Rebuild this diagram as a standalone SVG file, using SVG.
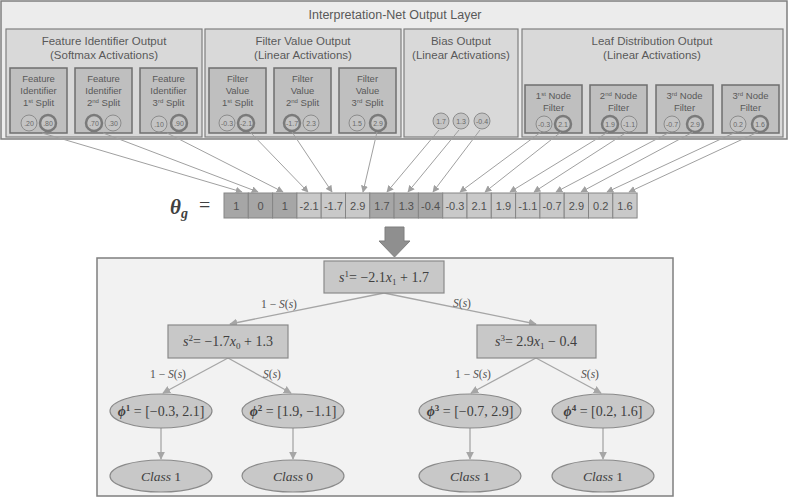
<svg xmlns="http://www.w3.org/2000/svg" width="789" height="497" viewBox="0 0 789 497">
<defs>
<style>
.sans{font-family:"Liberation Sans",Arial,sans-serif;fill:#595959}
.serif{font-family:"Liberation Serif","DejaVu Serif",serif;fill:#404040}
.panel{fill:#ececec;stroke:#7f7f7f;stroke-width:1.5}
.grp{fill:#d9d9d9;stroke:#7f7f7f;stroke-width:1.2}
.sub{fill:#bfbfbf;stroke:#6f6f6f;stroke-width:1.5}
.c{fill:#c4c4c4;stroke:#8c8c8c;stroke-width:1}
.cb{fill:#c4c4c4;stroke:#7a7a7a;stroke-width:2.5}
.ct{font-family:"Liberation Sans",Arial,sans-serif;font-size:7px;fill:#6a6a6a;text-anchor:middle}
.dk{fill:#a6a6a6;stroke:#858585;stroke-width:1}
.lt{fill:#c9c9c9;stroke:#858585;stroke-width:1}
.cell{font-family:"Liberation Sans",Arial,sans-serif;font-size:11px;fill:#505050;text-anchor:middle}
.node{fill:#c8c8c8;stroke:#8a8a8a;stroke-width:1.2}
.conn{stroke:#a0a0a0;stroke-width:1;fill:none;marker-end:url(#ah)}
.tconn{stroke:#a6a6a6;stroke-width:1.3;fill:none;marker-end:url(#ah2)}
.lbl{font-family:"Liberation Serif","DejaVu Serif",serif;font-size:11.5px;fill:#505050;text-anchor:middle}
.st{font-family:"Liberation Sans",Arial,sans-serif;font-size:9.5px;fill:#595959;text-anchor:middle}
</style>
<marker id="ah" viewBox="0 0 10 10" refX="9" refY="5" markerWidth="7" markerHeight="7" orient="auto" markerUnits="userSpaceOnUse"><path d="M0,0 L10,5 L0,10 z" fill="#a0a0a0"/></marker>
<marker id="ah2" viewBox="0 0 10 10" refX="9" refY="5" markerWidth="8" markerHeight="8" orient="auto" markerUnits="userSpaceOnUse"><path d="M0,0 L10,5 L0,10 z" fill="#a6a6a6"/></marker>
</defs>
<rect width="789" height="497" fill="#ffffff"/>

<g id="output-layer">
<rect class="panel" x="1" y="1" width="786" height="138"/>
<text class="sans" x="395" y="19" font-size="12.5" text-anchor="middle">Interpretation-Net Output Layer</text>
</g>

<g id="feature-identifier-output">
<rect class="grp" x="6" y="29" width="196" height="108"/>
<text class="sans" x="104" y="45" font-size="11.5" text-anchor="middle">Feature Identifier Output</text>
<text class="sans" x="104" y="59" font-size="11.5" text-anchor="middle">(Softmax Activations)</text>
</g>
<g id="fi-1">
<rect class="sub" x="10" y="68" width="57" height="65"/>
<text class="st"><tspan x="38.5" y="82">Feature</tspan><tspan x="38.5" y="94">Identifier</tspan><tspan x="38.5" y="106">1<tspan font-size="6" dy="-3">st</tspan><tspan dy="3"> Split</tspan></tspan></text>
<circle class="c" cx="29" cy="123" r="8"/><text class="ct" x="29" y="125.5">.20</text>
<circle class="cb" cx="48" cy="123" r="8"/><text class="ct" x="48" y="125.5">.80</text>
</g>
<g id="fi-2">
<rect class="sub" x="75" y="68" width="57" height="65"/>
<text class="st"><tspan x="103.5" y="82">Feature</tspan><tspan x="103.5" y="94">Identifier</tspan><tspan x="103.5" y="106">2<tspan font-size="6" dy="-3">nd</tspan><tspan dy="3"> Split</tspan></tspan></text>
<circle class="cb" cx="94" cy="123" r="8"/><text class="ct" x="94" y="125.5">.70</text>
<circle class="c" cx="113" cy="123" r="8"/><text class="ct" x="113" y="125.5">.30</text>
</g>
<g id="fi-3">
<rect class="sub" x="140" y="68" width="57" height="65"/>
<text class="st"><tspan x="168.5" y="82">Feature</tspan><tspan x="168.5" y="94">Identifier</tspan><tspan x="168.5" y="106">3<tspan font-size="6" dy="-3">rd</tspan><tspan dy="3"> Split</tspan></tspan></text>
<circle class="c" cx="159" cy="124" r="8"/><text class="ct" x="159" y="126.5">.10</text>
<circle class="cb" cx="179" cy="123" r="8"/><text class="ct" x="179" y="125.5">.90</text>
</g>

<g id="filter-value-output">
<rect class="grp" x="205" y="29" width="196" height="108"/>
<text class="sans" x="303" y="45" font-size="11.5" text-anchor="middle">Filter Value Output</text>
<text class="sans" x="303" y="59" font-size="11.5" text-anchor="middle">(Linear Activations)</text>
</g>
<g id="fv-1">
<rect class="sub" x="209" y="68" width="57" height="65"/>
<text class="st"><tspan x="237.5" y="82">Filter</tspan><tspan x="237.5" y="94">Value</tspan><tspan x="237.5" y="106">1<tspan font-size="6" dy="-3">st</tspan><tspan dy="3"> Split</tspan></tspan></text>
<circle class="c" cx="227" cy="123" r="8"/><text class="ct" x="227" y="125.5">-0.3</text>
<circle class="cb" cx="246" cy="123" r="8"/><text class="ct" x="246" y="125.5">-2.1</text>
</g>
<g id="fv-2">
<rect class="sub" x="274" y="68" width="57" height="65"/>
<text class="st"><tspan x="302.5" y="82">Filter</tspan><tspan x="302.5" y="94">Value</tspan><tspan x="302.5" y="106">2<tspan font-size="6" dy="-3">nd</tspan><tspan dy="3"> Split</tspan></tspan></text>
<circle class="cb" cx="292" cy="123" r="8"/><text class="ct" x="292" y="125.5">-1.7</text>
<circle class="c" cx="311" cy="123" r="8"/><text class="ct" x="311" y="125.5">2.3</text>
</g>
<g id="fv-3">
<rect class="sub" x="339" y="68" width="57" height="65"/>
<text class="st"><tspan x="367.5" y="82">Filter</tspan><tspan x="367.5" y="94">Value</tspan><tspan x="367.5" y="106">3<tspan font-size="6" dy="-3">rd</tspan><tspan dy="3"> Split</tspan></tspan></text>
<circle class="c" cx="357" cy="123" r="8"/><text class="ct" x="357" y="125.5">1.5</text>
<circle class="cb" cx="378" cy="123" r="8"/><text class="ct" x="378" y="125.5">2.9</text>
</g>

<g id="bias-output">
<rect class="grp" x="404" y="29" width="114" height="108"/>
<text class="sans" x="461" y="45" font-size="11.5" text-anchor="middle">Bias Output</text>
<text class="sans" x="461" y="59" font-size="11.5" text-anchor="middle">(Linear Activations)</text>
<circle class="c" cx="441" cy="121" r="8"/><text class="ct" x="441" y="123.5">1.7</text>
<circle class="c" cx="461" cy="121" r="8"/><text class="ct" x="461" y="123.5">1.3</text>
<circle class="c" cx="482" cy="121" r="8"/><text class="ct" x="482" y="123.5">-0.4</text>
</g>

<g id="leaf-distribution-output">
<rect class="grp" x="522" y="29" width="261" height="108"/>
<text class="sans" x="652" y="45" font-size="11.5" text-anchor="middle">Leaf Distribution Output</text>
<text class="sans" x="652" y="59" font-size="11.5" text-anchor="middle">(Linear Activations)</text>
</g>
<g id="ld-1">
<rect class="sub" x="525" y="85" width="57" height="48"/>
<text class="st"><tspan x="553.5" y="99">1<tspan font-size="6" dy="-3">st</tspan><tspan dy="3"> Node</tspan></tspan><tspan x="553.5" y="111">Filter</tspan></text>
<circle class="c" cx="544" cy="124" r="8"/><text class="ct" x="544" y="126.5">-0.3</text>
<circle class="cb" cx="563" cy="124" r="8"/><text class="ct" x="563" y="126.5">2.1</text>
</g>
<g id="ld-2">
<rect class="sub" x="590" y="85" width="57" height="48"/>
<text class="st"><tspan x="618.5" y="99">2<tspan font-size="6" dy="-3">nd</tspan><tspan dy="3"> Node</tspan></tspan><tspan x="618.5" y="111">Filter</tspan></text>
<circle class="cb" cx="610" cy="124" r="8"/><text class="ct" x="610" y="126.5">1.9</text>
<circle class="c" cx="629" cy="124" r="8"/><text class="ct" x="629" y="126.5">-1.1</text>
</g>
<g id="ld-3">
<rect class="sub" x="656" y="85" width="57" height="48"/>
<text class="st"><tspan x="684.5" y="99">3<tspan font-size="6" dy="-3">rd</tspan><tspan dy="3"> Node</tspan></tspan><tspan x="684.5" y="111">Filter</tspan></text>
<circle class="c" cx="672" cy="124" r="8"/><text class="ct" x="672" y="126.5">-0.7</text>
<circle class="cb" cx="695" cy="124" r="8"/><text class="ct" x="695" y="126.5">2.9</text>
</g>
<g id="ld-4">
<rect class="sub" x="722" y="85" width="57" height="48"/>
<text class="st"><tspan x="750.5" y="99">3<tspan font-size="6" dy="-3">rd</tspan><tspan dy="3"> Node</tspan></tspan><tspan x="750.5" y="111">Filter</tspan></text>
<circle class="c" cx="738" cy="124" r="8"/><text class="ct" x="738" y="126.5">0.2</text>
<circle class="cb" cx="760" cy="124" r="8"/><text class="ct" x="760" y="126.5">1.6</text>
</g>

<g id="theta-vector">
<text x="170" y="214" font-family="'Liberation Serif','DejaVu Serif',serif" font-size="21" font-weight="bold" font-style="italic" fill="#404040">θ<tspan font-size="14" dy="4">g</tspan></text>
<text x="199" y="212" font-family="'Liberation Serif','DejaVu Serif',serif" font-size="20" fill="#404040">=</text>
<rect class="dk" x="224" y="193" width="24.3" height="25"/>
<rect class="dk" x="248.3" y="193" width="24.3" height="25"/>
<rect class="dk" x="272.6" y="193" width="24.3" height="25"/>
<rect class="lt" x="296.9" y="193" width="24.3" height="25"/>
<rect class="lt" x="321.2" y="193" width="24.3" height="25"/>
<rect class="lt" x="345.5" y="193" width="24.3" height="25"/>
<rect class="dk" x="369.8" y="193" width="24.3" height="25"/>
<rect class="dk" x="394.1" y="193" width="24.3" height="25"/>
<rect class="dk" x="418.4" y="193" width="24.3" height="25"/>
<rect class="lt" x="442.7" y="193" width="24.3" height="25"/>
<rect class="lt" x="467" y="193" width="24.3" height="25"/>
<rect class="lt" x="491.3" y="193" width="24.3" height="25"/>
<rect class="lt" x="515.6" y="193" width="24.3" height="25"/>
<rect class="lt" x="539.9" y="193" width="24.3" height="25"/>
<rect class="lt" x="564.2" y="193" width="24.3" height="25"/>
<rect class="lt" x="588.5" y="193" width="24.3" height="25"/>
<rect class="lt" x="612.8" y="193" width="24.3" height="25"/>
<text class="cell" x="236.2" y="209.5">1</text>
<text class="cell" x="260.5" y="209.5">0</text>
<text class="cell" x="284.8" y="209.5">1</text>
<text class="cell" x="309.1" y="209.5">-2.1</text>
<text class="cell" x="333.4" y="209.5">-1.7</text>
<text class="cell" x="357.7" y="209.5">2.9</text>
<text class="cell" x="382" y="209.5">1.7</text>
<text class="cell" x="406.3" y="209.5">1.3</text>
<text class="cell" x="430.6" y="209.5">-0.4</text>
<text class="cell" x="454.9" y="209.5">-0.3</text>
<text class="cell" x="479.2" y="209.5">2.1</text>
<text class="cell" x="503.5" y="209.5">1.9</text>
<text class="cell" x="527.8" y="209.5">-1.1</text>
<text class="cell" x="552.1" y="209.5">-0.7</text>
<text class="cell" x="576.4" y="209.5">2.9</text>
<text class="cell" x="600.7" y="209.5">0.2</text>
<text class="cell" x="625" y="209.5">1.6</text>
</g>

<g id="connectors">
<line class="conn" x1="42" y1="133" x2="242" y2="192"/>
<line class="conn" x1="103" y1="133" x2="258" y2="192"/>
<line class="conn" x1="167" y1="133" x2="283" y2="192"/>
<line class="conn" x1="250" y1="132" x2="308" y2="192"/>
<line class="conn" x1="292" y1="132" x2="332" y2="192"/>
<line class="conn" x1="377" y1="132" x2="363" y2="192"/>
<line class="conn" x1="439" y1="130" x2="387" y2="192"/>
<line class="conn" x1="459" y1="130" x2="408" y2="192"/>
<line class="conn" x1="480" y1="130" x2="433" y2="192"/>
<line class="conn" x1="541" y1="132" x2="460" y2="192"/>
<line class="conn" x1="561" y1="132" x2="485" y2="192"/>
<line class="conn" x1="608" y1="132" x2="510" y2="192"/>
<line class="conn" x1="627" y1="132" x2="534" y2="192"/>
<line class="conn" x1="670" y1="132" x2="556" y2="192"/>
<line class="conn" x1="693" y1="132" x2="581" y2="192"/>
<line class="conn" x1="736" y1="132" x2="607" y2="192"/>
<line class="conn" x1="758" y1="132" x2="629" y2="192"/>
</g>

<g id="big-arrow">
<path d="M385,227 H404 V241 H410 L394.5,257 L379,241 H385 Z" fill="#8f8f8f" stroke="#7f7f7f" stroke-width="1"/>
</g>

<g id="tree-panel">
<rect x="97" y="258" width="576" height="238" fill="#f2f2f2" stroke="#7f7f7f" stroke-width="1.5"/>
</g>

<g id="tree-connectors">
<line class="tconn" x1="384" y1="293" x2="230" y2="324"/>
<line class="tconn" x1="384" y1="293" x2="536" y2="324"/>
<line class="tconn" x1="228" y1="358" x2="163" y2="393"/>
<line class="tconn" x1="228" y1="358" x2="291" y2="393"/>
<line class="tconn" x1="536" y1="358" x2="471" y2="393"/>
<line class="tconn" x1="536" y1="358" x2="601" y2="393"/>
<line class="tconn" x1="161" y1="428" x2="161" y2="459"/>
<line class="tconn" x1="293" y1="428" x2="293" y2="459"/>
<line class="tconn" x1="470" y1="428" x2="470" y2="459"/>
<line class="tconn" x1="603" y1="428" x2="603" y2="459"/>
<text class="lbl" x="279" y="308">1 − <tspan font-style="italic">S</tspan>(<tspan font-style="italic">s</tspan>)</text>
<text class="lbl" x="462" y="307"><tspan font-style="italic">S</tspan>(<tspan font-style="italic">s</tspan>)</text>
<text class="lbl" x="168" y="378">1 − <tspan font-style="italic">S</tspan>(<tspan font-style="italic">s</tspan>)</text>
<text class="lbl" x="272" y="378"><tspan font-style="italic">S</tspan>(<tspan font-style="italic">s</tspan>)</text>
<text class="lbl" x="473" y="378">1 − <tspan font-style="italic">S</tspan>(<tspan font-style="italic">s</tspan>)</text>
<text class="lbl" x="590" y="378"><tspan font-style="italic">S</tspan>(<tspan font-style="italic">s</tspan>)</text>
</g>

<g id="node-s1">
<rect class="node" x="324" y="261" width="120" height="32"/>
<text class="serif" x="384" y="282" font-size="14" text-anchor="middle"><tspan font-style="italic">s</tspan><tspan font-size="9" dy="-5">1</tspan><tspan dy="5">= −2.1</tspan><tspan font-style="italic">x</tspan><tspan font-size="9" dy="3">1</tspan><tspan dy="-3"> + 1.7</tspan></text>
</g>
<g id="node-s2">
<rect class="node" x="168" y="325" width="120" height="33"/>
<text class="serif" x="228" y="346" font-size="14" text-anchor="middle"><tspan font-style="italic">s</tspan><tspan font-size="9" dy="-5">2</tspan><tspan dy="5">= −1.7</tspan><tspan font-style="italic">x</tspan><tspan font-size="9" dy="3">0</tspan><tspan dy="-3"> + 1.3</tspan></text>
</g>
<g id="node-s3">
<rect class="node" x="477" y="325" width="119" height="33"/>
<text class="serif" x="536" y="346" font-size="14" text-anchor="middle"><tspan font-style="italic">s</tspan><tspan font-size="9" dy="-5">3</tspan><tspan dy="5">= 2.9</tspan><tspan font-style="italic">x</tspan><tspan font-size="9" dy="3">1</tspan><tspan dy="-3"> − 0.4</tspan></text>
</g>
<g id="leaf-phi1">
<ellipse class="node" cx="161" cy="411" rx="51" ry="17"/>
<text class="serif" x="161" y="416" font-size="14" text-anchor="middle"><tspan font-weight="bold" font-style="italic">ϕ</tspan><tspan font-weight="bold" font-size="9" dy="-5">1</tspan><tspan dy="5"> = [−0.3, 2.1]</tspan></text>
</g>
<g id="leaf-phi2">
<ellipse class="node" cx="293" cy="411" rx="51" ry="17"/>
<text class="serif" x="293" y="416" font-size="14" text-anchor="middle"><tspan font-weight="bold" font-style="italic">ϕ</tspan><tspan font-weight="bold" font-size="9" dy="-5">2</tspan><tspan dy="5"> = [1.9, −1.1]</tspan></text>
</g>
<g id="leaf-phi3">
<ellipse class="node" cx="470" cy="411" rx="51" ry="17"/>
<text class="serif" x="470" y="416" font-size="14" text-anchor="middle"><tspan font-weight="bold" font-style="italic">ϕ</tspan><tspan font-weight="bold" font-size="9" dy="-5">3</tspan><tspan dy="5"> = [−0.7, 2.9]</tspan></text>
</g>
<g id="leaf-phi4">
<ellipse class="node" cx="603" cy="411" rx="51" ry="17"/>
<text class="serif" x="603" y="416" font-size="14" text-anchor="middle"><tspan font-weight="bold" font-style="italic">ϕ</tspan><tspan font-weight="bold" font-size="9" dy="-5">4</tspan><tspan dy="5"> = [0.2, 1.6]</tspan></text>
</g>
<g id="class-1a">
<ellipse class="node" cx="161" cy="476" rx="51" ry="16"/>
<text class="serif" x="161" y="481" font-size="13.5" text-anchor="middle"><tspan font-style="italic">Class</tspan> 1</text>
</g>
<g id="class-0">
<ellipse class="node" cx="293" cy="476" rx="51" ry="16"/>
<text class="serif" x="293" y="481" font-size="13.5" text-anchor="middle"><tspan font-style="italic">Class</tspan> 0</text>
</g>
<g id="class-1b">
<ellipse class="node" cx="470" cy="476" rx="51" ry="16"/>
<text class="serif" x="470" y="481" font-size="13.5" text-anchor="middle"><tspan font-style="italic">Class</tspan> 1</text>
</g>
<g id="class-1c">
<ellipse class="node" cx="603" cy="476" rx="51" ry="16"/>
<text class="serif" x="603" y="481" font-size="13.5" text-anchor="middle"><tspan font-style="italic">Class</tspan> 1</text>
</g>
</svg>
